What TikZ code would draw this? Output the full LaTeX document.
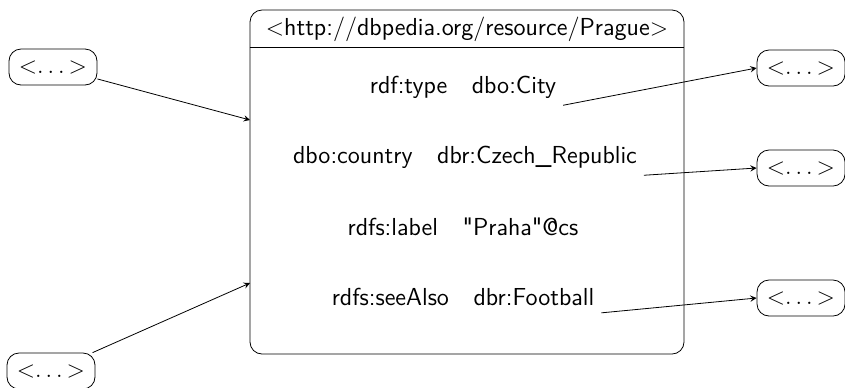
\documentclass[tikz,border=0pt]{standalone}
\usepackage{tikz}

\begin{document}
\begin{tikzpicture}[x=0.5pt, y=-0.5pt, >=stealth,
            every node/.style = {font=\sffamily\fontsize{12.3}{14}\selectfont},
            resource/.style = {shape=rectangle, rounded corners=6pt, draw,
                                align=center, inner sep=3pt,
                                font=\sffamily\fontsize{13}{15}\selectfont,
                                minimum width=44pt, minimum height=18pt},
            subject/.style = {shape=rectangle, rounded corners=6pt, draw,
                                minimum width=217pt, minimum height=172pt}]
    \useasboundingbox (0,0) rectangle (845,387);
    % the resource with its triples
    \node[subject] (prague) at (467,182) {};
    \node (header) at (467,29) {$<$http://dbpedia.org/resource/Prague$>$};
    \coordinate (hline) at (0,47);
    \draw (prague.west |- hline) -- (prague.east |- hline);
    \node (type) at (463,87) {rdf:type\quad dbo:City};
    \node (country) at (465,157) {dbo:country\quad dbr:Czech\_Republic};
    \node (label) at (463,227) {rdfs:label\quad \textquotedbl Praha\textquotedbl @cs};
    \node (seealso) at (463,297) {rdfs:seeAlso\quad dbr:Football};
    % other resources
    \node[resource] (in1) at (53,67) {$<${}$\ldots\,${}$>$};
    \node[resource] (in2) at (51,371) {$<${}$\ldots\,${}$>$};
    \node[resource] (out1) at (801,68) {$<${}$\ldots\,${}$>$};
    \node[resource] (out2) at (801,168) {$<${}$\ldots\,${}$>$};
    \node[resource] (out3) at (801,298) {$<${}$\ldots\,${}$>$};
    \coordinate (ref1) at (250,120);
    \coordinate (ref2) at (250,283);
    \draw[->] (in1) -- (ref1);
    \draw[->] (in2) -- (ref2);
    \draw[->] (type.south east) -- (out1.west);
    \draw[->] (country.south east) -- (out2.west);
    \draw[->] (seealso.south east) -- (out3.west);
\end{tikzpicture}
\end{document}
